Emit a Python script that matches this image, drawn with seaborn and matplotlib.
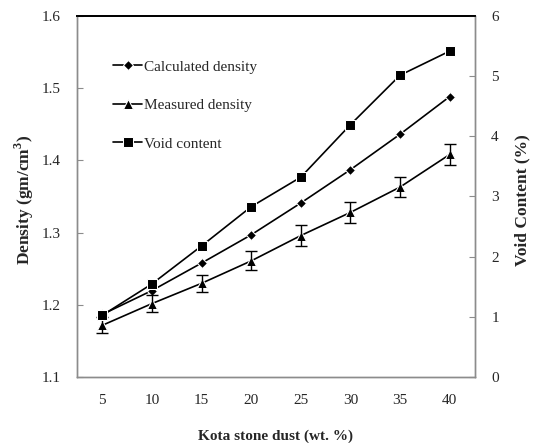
import matplotlib
matplotlib.use("Agg")
import matplotlib.pyplot as plt
import seaborn as sns
import pandas as pd
import numpy as np

dust = [5, 10, 15, 20, 25, 30, 35, 40]
calculated = [1.187, 1.220, 1.258, 1.297, 1.341, 1.387, 1.436, 1.488]
measured = [1.172, 1.202, 1.230, 1.261, 1.296, 1.328, 1.363, 1.408]
measured_err = [0.011, 0.012, 0.012, 0.013, 0.014, 0.014, 0.014, 0.014]
void = [1.03, 1.55, 2.18, 2.83, 3.32, 4.19, 5.01, 5.41]

sns.set_style("white")
plt.rcParams['font.family'] = ['Liberation Serif', 'DejaVu Serif']
plt.rcParams['mathtext.fontset'] = 'custom'
plt.rcParams['mathtext.rm'] = 'Liberation Serif'
plt.rcParams['mathtext.bf'] = 'Liberation Serif:bold'

df = pd.DataFrame({"dust": dust, "calc": calculated, "meas": measured, "void": void})

fig = plt.figure(figsize=(5.38, 4.43), dpi=100)
ax = fig.add_axes([0.144, 0.148, 0.738, 0.817])
ax2 = ax.twinx()

sns.lineplot(data=df, x="dust", y="calc", ax=ax, color="black", marker="D",
             markersize=5, linewidth=1.2, label="Calculated density", legend=False)
sns.lineplot(data=df, x="dust", y="meas", ax=ax, color="black", marker="^",
             markersize=7, linewidth=1.2, label="Measured density", legend=False)
ax.errorbar(dust, measured, yerr=measured_err, fmt="none", ecolor="black",
            elinewidth=1.0, capsize=4, capthick=1.0)
sns.lineplot(data=df, x="dust", y="void", ax=ax2, color="black", marker="s",
             markersize=7, linewidth=1.2, label="Void content", legend=False)

ax.set_xlim(2.5, 42.5)
ax.set_ylim(1.1, 1.6)
ax2.set_ylim(0, 6)
ax.set_xticks(dust)
ax.set_yticks([1.1, 1.2, 1.3, 1.4, 1.5, 1.6])
ax2.set_yticks([0, 1, 2, 3, 4, 5, 6])
ax.set_yticklabels(["1.1", "1.2", "1.3", "1.4", "1.5", "1.6"])

for a in (ax, ax2):
    for s in a.spines.values():
        s.set_color("#8c8c8c")
        s.set_linewidth(1.0)
    a.spines["top"].set_color("black")
    a.spines["top"].set_linewidth(1.3)

ax.tick_params(axis="x", direction="in", length=4, color="#8c8c8c", labelsize=11, pad=12)
ax.tick_params(axis="y", direction="in", length=4, color="#8c8c8c", labelsize=11, pad=12, left=True)
ax2.tick_params(axis="y", direction="in", length=4, color="#8c8c8c", labelsize=11, pad=12, right=True)

ax.set_xlabel("Kota stone dust (wt. %)", fontsize=11, fontweight="bold", labelpad=16)
ax.set_ylabel(r"Density (gm/cm$^\mathbf{3}$)", fontsize=12.5, fontweight="bold", labelpad=10)
ax2.set_ylabel("Void Content (%)", fontsize=12.5, fontweight="bold", labelpad=20)
ax.yaxis.set_label_coords(-0.105, 0.49)
ax2.yaxis.set_label_coords(1.10, 0.49)

h1, l1 = ax.get_legend_handles_labels()
h2, l2 = ax2.get_legend_handles_labels()
leg = ax.legend(h1 + h2, l1 + l2, loc="upper left", bbox_to_anchor=(0.055, 0.915),
                frameon=False, fontsize=11, handlelength=1.9, handletextpad=0.15,
                labelspacing=1.62)

fig.savefig("out.png", dpi=100)
